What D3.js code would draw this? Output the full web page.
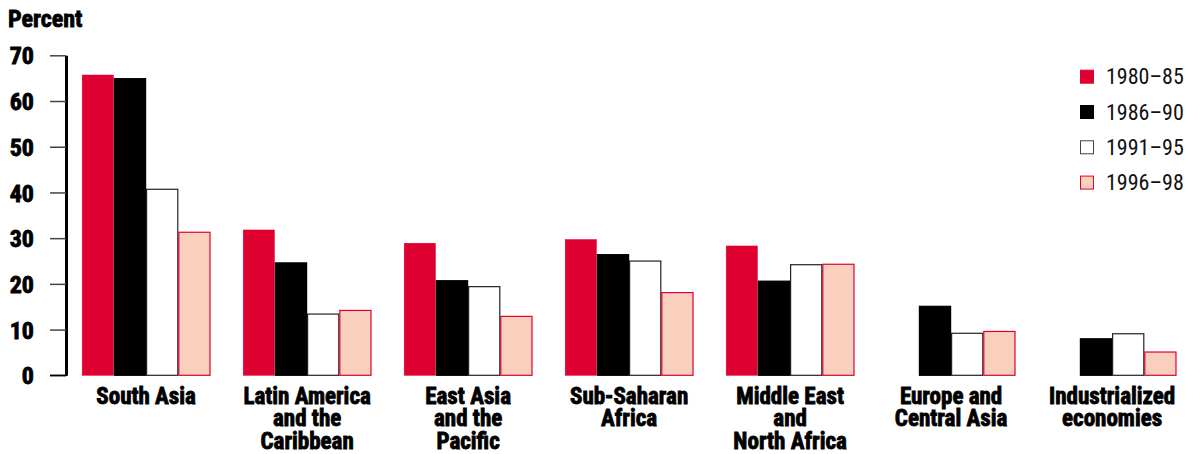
<!DOCTYPE html>
<html><head><meta charset="utf-8">
<script src="https://cdn.jsdelivr.net/npm/d3@7"></script>
<style>
body{margin:0;background:#fff;}
text{font-family:"Liberation Sans Narrow","Arial Narrow","Roboto Condensed","Liberation Sans",sans-serif;}
.heavy{stroke:#000;stroke-width:0.8px;paint-order:stroke;}
</style></head>
<body><svg id="c" width="1194" height="454"></svg>
<script>
const categories = [
  ["South Asia"],
  ["Latin America","and the","Caribbean"],
  ["East Asia","and the","Pacific"],
  ["Sub-Saharan","Africa"],
  ["Middle East","and","North Africa"],
  ["Europe and","Central Asia"],
  ["Industrialized","economies"]
];
const seriesNames = ["1980–85","1986–90","1991–95","1996–98"];
const s1980_85 = [65.8, 31.9, 29.0, 29.8, 28.4, null, null];
const s1986_90 = [65.0, 24.7, 20.8, 26.5, 20.7, 15.2, 8.1];
const s1991_95 = [40.8, 13.5, 19.5, 25.1, 24.3, 9.3, 9.2];
const s1996_98 = [31.4, 14.3, 13.0, 18.2, 24.4, 9.7, 5.2];
const yTicks = [0,10,20,30,40,50,60,70];

const series = [s1980_85, s1986_90, s1991_95, s1996_98];
const fills = ["#DE0030","#000000","#FFFFFF","#F9D0BE"];
const strokes = ["#DE0030","#000000","#222222","#DE0030"];

const svg = d3.select("#c");
const y = d3.scaleLinear().domain([0,70]).range([375.3,55.3]);
const x0 = d3.scaleBand().domain(d3.range(categories.length)).range([65.6,1192.6]).paddingInner(0.2).paddingOuter(0.1);
const x1 = d3.scaleBand().domain(d3.range(series.length)).range([0, x0.bandwidth()]);

// bars
series.forEach((s,si)=>{
  svg.append("g").selectAll("rect").data(s.map((v,i)=>({v,i})).filter(d=>d.v!=null))
    .join("rect")
    .attr("x", d=>x0(d.i)+x1(si)+0.5)
    .attr("y", d=>y(d.v)+0.5)
    .attr("width", x1.bandwidth()-1)
    .attr("height", d=>y(0)-y(d.v)-0.5)
    .attr("fill", fills[si])
    .attr("stroke", strokes[si])
    .attr("stroke-width", si===0?0.5:1.2);
});

// y axis
const ax = svg.append("g").attr("transform","translate(66,0)")
  .call(d3.axisLeft(y).tickValues(yTicks).tickSize(16).tickSizeOuter(0).tickPadding(16).tickFormat(d3.format("d")));
ax.select(".domain").attr("stroke","#000").attr("stroke-width",3);
ax.selectAll(".tick line").attr("stroke","#444").attr("stroke-width",1.5);
ax.selectAll(".tick text").attr("font-size",24).attr("font-weight","bold").attr("fill","#000")
  .attr("class","heavy").attr("x",-32).attr("dy","0.36em");
// baseline
svg.append("line").attr("x1",50).attr("x2",67).attr("y1",y(0)).attr("y2",y(0)).attr("stroke","#000").attr("stroke-width",1.5);

// category labels
const lab = svg.append("g").selectAll("text").data(categories).join("text")
  .attr("class","heavy")
  .attr("text-anchor","middle").attr("font-size",23).attr("font-weight","bold").attr("fill","#000")
  .attr("transform",(d,i)=>`translate(${x0(i)+x0.bandwidth()/2},403.5)`);
lab.selectAll("tspan").data(d=>d).join("tspan").attr("x",0).attr("dy",(d,j)=>j===0?0:22.5).text(d=>d);

// y title
svg.append("text").attr("class","heavy").attr("x",8).attr("y",27).attr("font-size",24).attr("font-weight","bold").text("Percent");

// legend
const lg = svg.append("g").selectAll("g").data(seriesNames).join("g")
  .attr("transform",(d,i)=>`translate(1080,${76.7+i*35.3})`);
lg.append("rect").attr("x",0.5).attr("y",-6.5).attr("width",13).attr("height",13)
  .attr("fill",(d,i)=>fills[i]).attr("stroke",(d,i)=>i===2?"#444":strokes[i]).attr("stroke-width",1);
lg.append("text").attr("x",26).attr("y",7.5).attr("font-size",22).attr("fill","#111").text(d=>d);
</script></body></html>
